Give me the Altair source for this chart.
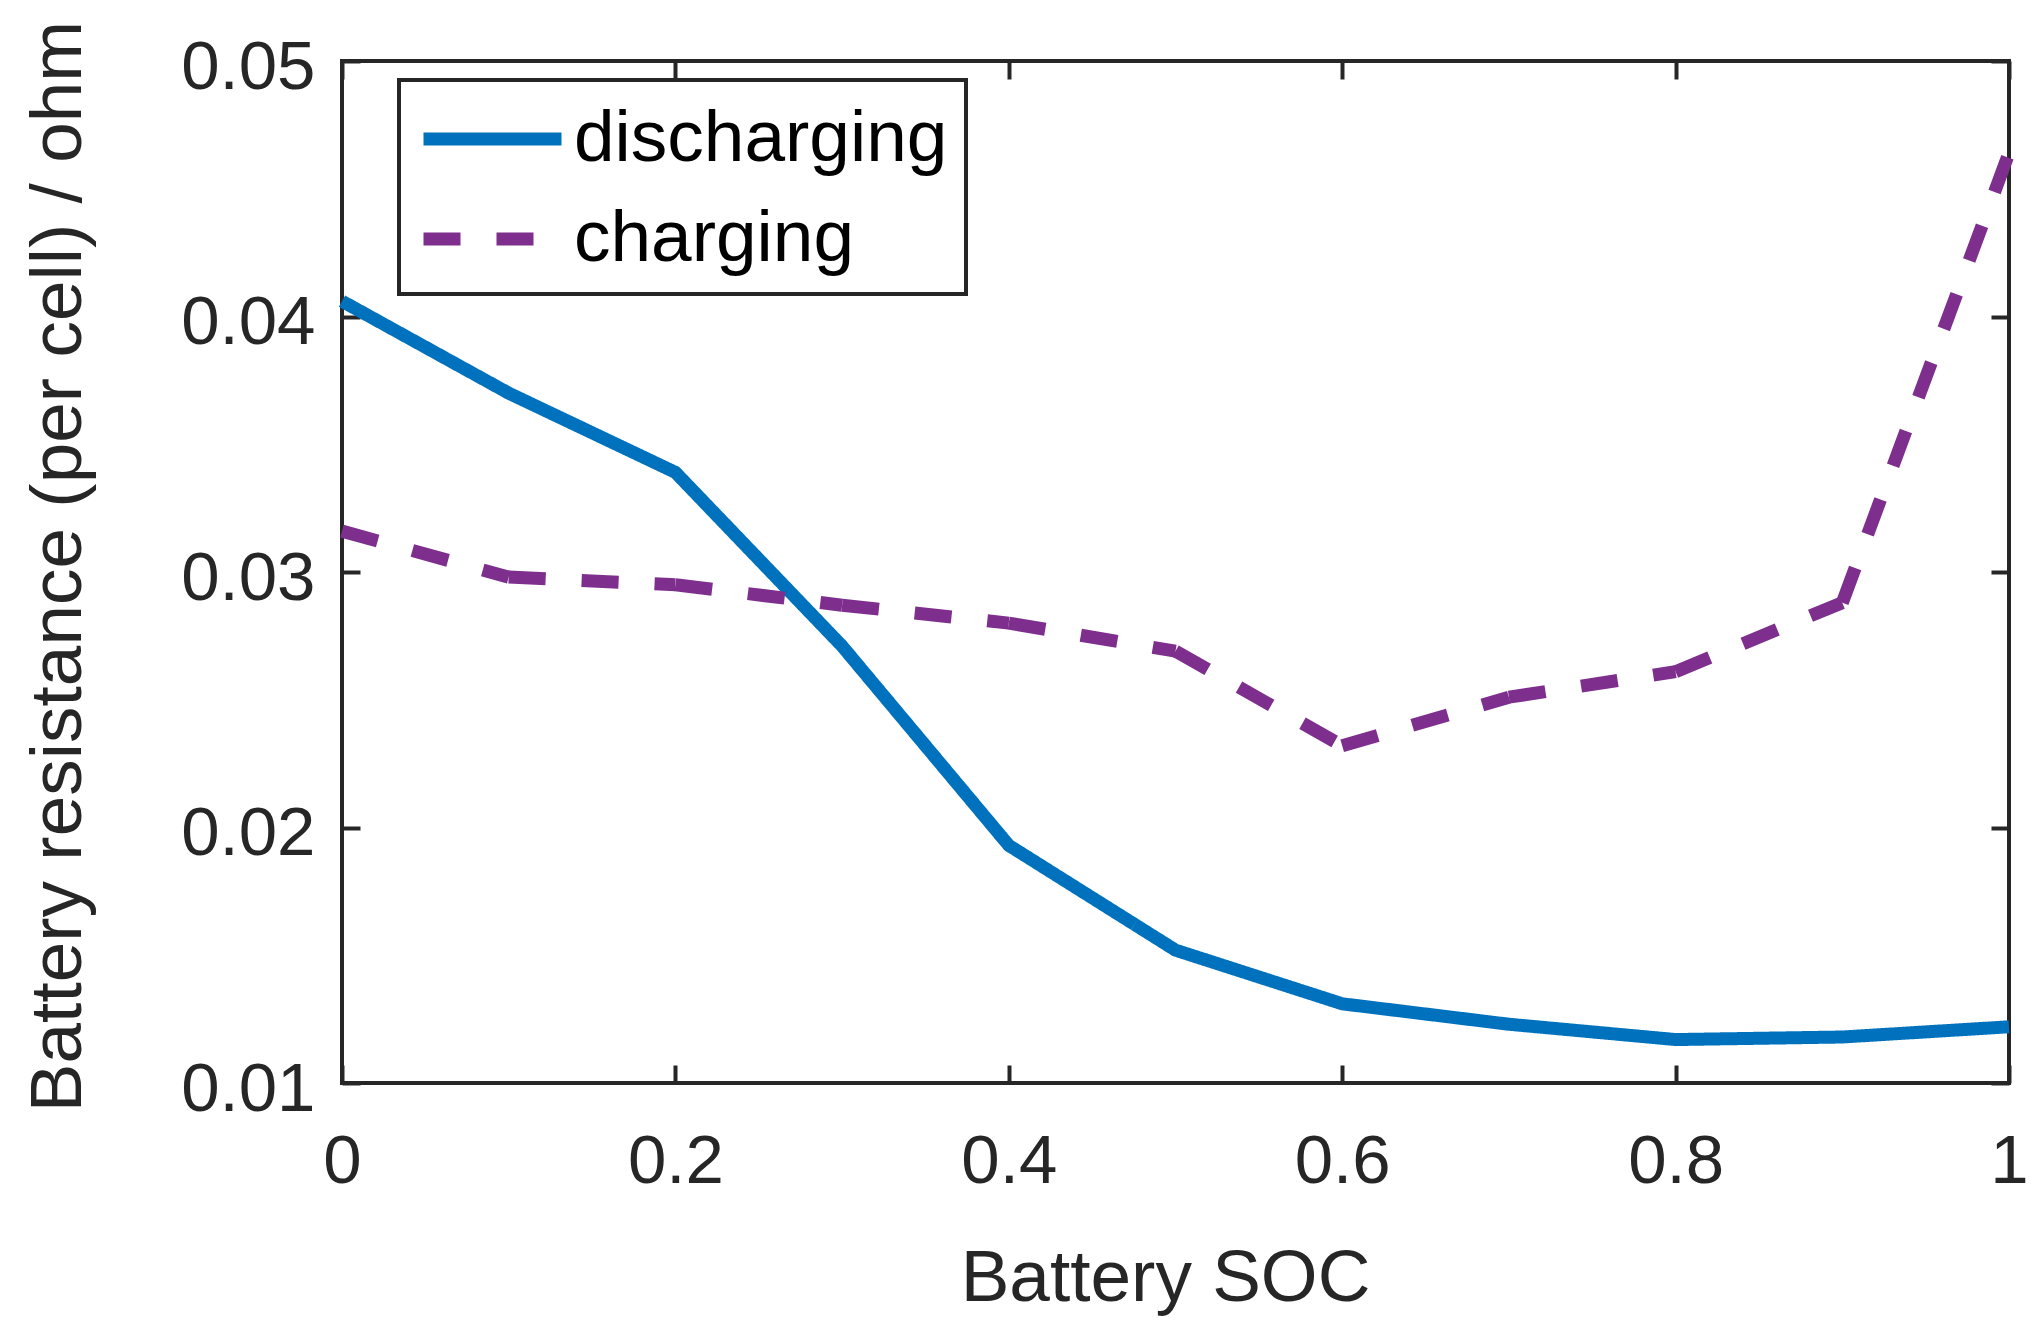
import altair as alt
import pandas as pd

# ---- data ----
soc = [0.0, 0.1, 0.2, 0.3, 0.4, 0.5, 0.6, 0.7, 0.8, 0.9, 1.0]
discharging = [0.0406, 0.0370, 0.0339, 0.0271, 0.0193, 0.0152, 0.0131, 0.0123, 0.0117, 0.0118, 0.0122]
charging = [0.0316, 0.0298, 0.0295, 0.0287, 0.0280, 0.0269, 0.0232, 0.0251, 0.0261, 0.0288, 0.0464]
series_names = ["discharging", "charging"]
series_colors = ["#0072BD", "#7E2F8E"]
series_dash = [[1, 0], [37, 36]]
x_ticks = [0, 0.2, 0.4, 0.6, 0.8, 1]
y_ticks = [0.01, 0.02, 0.03, 0.04, 0.05]

# discharging: one continuous polyline; charging: one piece per segment so the
# dash pattern restarts at every data point (as in the original MATLAB output)
rows = []
for j in range(len(soc)):
    rows.append({"soc": soc[j], "r": discharging[j], "series": series_names[0], "seg": "d"})
for i in range(len(soc) - 1):
    for j in (i, i + 1):
        rows.append({"soc": soc[j], "r": charging[j], "series": series_names[1], "seg": f"c{i}"})
df = pd.DataFrame(rows)

W, H = 1667, 1022
FONT = "Liberation Sans"
INK = "#262626"

xs = alt.Scale(domain=[0, 1], nice=False, zero=False)
ys = alt.Scale(domain=[0.01, 0.05], nice=False, zero=False)

main_x = alt.Axis(
    orient="bottom", values=x_ticks, format="~g", ticks=False, tickSize=0,
    domain=False, grid=False, labelFont=FONT, labelFontSize=69, labelColor=INK,
    labelPadding=44, labelFlush=False, labelOverlap=False,
    title="Battery SOC", titleFont=FONT, titleFontSize=73, titleFontWeight="normal",
    titleColor=INK, titleBaseline="alphabetic", titleY=217, titleX=823,
)
main_y = alt.Axis(
    orient="left", values=y_ticks, format="~g", ticks=False, tickSize=0,
    domain=False, grid=False, labelFont=FONT, labelFontSize=69, labelColor=INK,
    labelPadding=27, labelOffset=6, labelFlush=False, labelOverlap=False,
    title="Battery resistance (per cell) / ohm", titleFont=FONT, titleFontSize=73,
    titleFontWeight="normal", titleColor=INK, titleBaseline="alphabetic",
    titleX=-262, titleY=505, titleAngle=270,
)


def tick_axis(orient, offset, values):
    return alt.Axis(
        orient=orient, offset=offset, values=values, labels=False, domain=False,
        grid=False, ticks=True, tickSize=18, tickWidth=4, tickColor=INK, title=None,
    )


legend = alt.Legend(orient="none", legendX=57, legendY=19, title=None)

main = alt.Chart(df).mark_line(strokeWidth=13, strokeCap="butt").encode(
    x=alt.X("soc:Q", scale=xs, axis=main_x),
    y=alt.Y("r:Q", scale=ys, axis=main_y),
    color=alt.Color("series:N", scale=alt.Scale(domain=series_names, range=series_colors), legend=legend),
    strokeDash=alt.StrokeDash("series:N", scale=alt.Scale(domain=series_names, range=series_dash), legend=legend),
    detail="seg:N",
)

ticks_a = alt.Chart(df).mark_line(opacity=0).encode(
    x=alt.X("soc:Q", scale=xs, axis=tick_axis("top", -H, x_ticks)),
    y=alt.Y("r:Q", scale=ys, axis=tick_axis("right", -W, y_ticks)),
)
ticks_b = alt.Chart(df).mark_line(opacity=0).encode(
    x=alt.X("soc:Q", scale=xs, axis=tick_axis("bottom", -H, x_ticks)),
    y=alt.Y("r:Q", scale=ys, axis=tick_axis("left", -W, y_ticks)),
)

chart = (
    alt.layer(main, ticks_a, ticks_b)
    .resolve_axis(x="independent", y="independent")
    .properties(
        width=W, height=H,
        autosize=alt.AutoSizeParams(type="none"),
        padding={"left": 334, "top": 53, "right": 21, "bottom": 235},
        background="white",
    )
    .configure_view(stroke=INK, strokeWidth=4)
    .configure_legend(
        symbolType="M-1,0H3", symbolSize=4761, symbolStrokeWidth=13,
        labelFont=FONT, labelFontSize=73, labelColor="black", labelLimit=1000,
        labelOffset=75, rowPadding=22, padding=18,
        strokeColor=INK, strokeWidth=4, fillColor="white",
    )
)

chart.save("out.html", embed_options={"renderer": "svg", "actions": False})
